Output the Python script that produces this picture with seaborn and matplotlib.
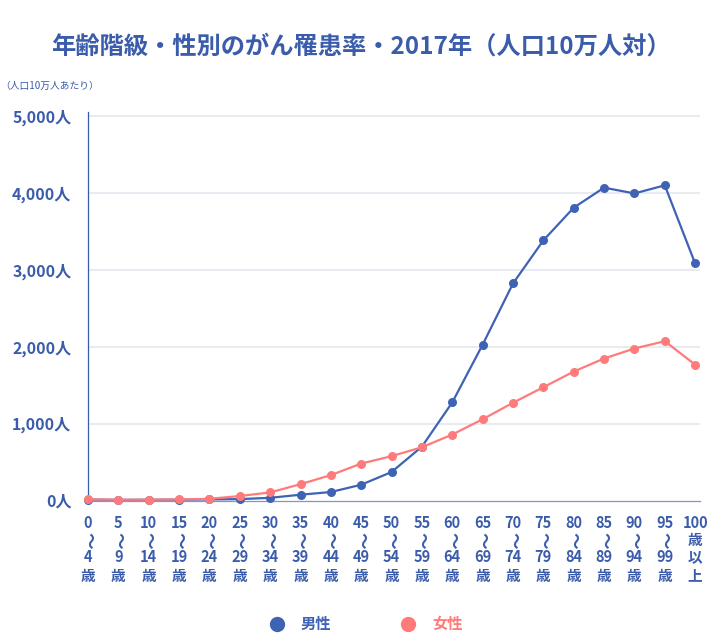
import matplotlib
matplotlib.use("Agg")
import matplotlib.pyplot as plt
from matplotlib.lines import Line2D
import seaborn as sns
import pandas as pd

categories = ["0〜4歳", "5〜9歳", "10〜14歳", "15〜19歳", "20〜24歳", "25〜29歳", "30〜34歳",
              "35〜39歳", "40〜44歳", "45〜49歳", "50〜54歳", "55〜59歳", "60〜64歳", "65〜69歳",
              "70〜74歳", "75〜79歳", "80〜84歳", "85〜89歳", "90〜94歳", "95〜99歳", "100歳以上"]
male = [12, 8, 9, 11, 14, 18, 35, 75, 110, 205, 370, 700, 1275, 2025, 2820, 3380, 3805, 4065, 3990, 4095, 3080]
female = [15, 10, 11, 14, 22, 58, 105, 212, 330, 480, 576, 692, 857, 1056, 1270, 1472, 1675, 1845, 1975, 2070, 1765]
series_names = ["男性", "女性"]
yticks = [0, 1000, 2000, 3000, 4000, 5000]
ytick_labels = ["0人", "1,000人", "2,000人", "3,000人", "4,000人", "5,000人"]
title = "年齢階級・性別のがん罹患率・2017年（人口10万人対）"
unit_note = "（人口10万人あたり）"

BLUE = "#3F63B4"
RED = "#FF7B7B"
TXT = "#3A5CAB"

sns.set_theme(style="white")
plt.rcParams["font.family"] = ["Noto Sans CJK JP", "DejaVu Sans"]

df = pd.DataFrame({
    "idx": list(range(len(categories))) * 2,
    "value": male + female,
    "sex": [series_names[0]] * len(male) + [series_names[1]] * len(female),
})

fig = plt.figure(figsize=(7.22, 6.35), dpi=100)
ax = fig.add_axes([88 / 722, 134.5 / 635, 612 / 722, 388.8 / 635])

sns.lineplot(data=df, x="idx", y="value", hue="sex", palette=[BLUE, RED],
             marker="o", markersize=6.5, markeredgewidth=0, linewidth=1.6,
             legend=False, ax=ax, clip_on=False, zorder=3)

ax.set_xlim(0, 20.16)
ax.set_ylim(0, 5052)
ax.set_yticks(yticks)
ax.set_yticklabels(ytick_labels)

# vertical (stacked) category labels: first line is the tick label,
# the following lines are placed under it one by one
first_lines = []
rest_lines = []
for c in categories:
    if "〜" in c:
        a, b = c.replace("歳", "").split("〜")
        first_lines.append(a)
        rest_lines.append(["〜", b, "歳"])
    else:
        first_lines.append(c[:-3])
        rest_lines.append(list(c[-3:]))
ax.set_xticks(range(len(categories)))
ax.set_xticklabels(first_lines)
ax.set_xlabel("")
ax.set_ylabel("")

px2pt = 72 / 100
line_offsets = [39.5, 57.0, 75.0]  # px below the axis line
for i, lines in enumerate(rest_lines):
    for off, s in zip(line_offsets, lines):
        is_wave = s == "〜"
        ax.annotate(s, xy=(i, 0), xycoords=("data", "axes fraction"),
                    xytext=(0, -off * px2pt), textcoords="offset points",
                    rotation=-90 if is_wave else 0, ha="center", va="center",
                    fontsize=12 if is_wave else 10.5, fontweight="bold",
                    color=TXT, annotation_clip=False)

for y in yticks[1:]:
    ax.axhline(y, xmin=0, xmax=1, color="#E9EBF3", lw=1.5, zorder=1)

ax.tick_params(axis="y", length=0, pad=12, labelsize=11.5, labelcolor=TXT)
ax.tick_params(axis="x", length=0, pad=10.5, labelsize=10.5, labelcolor=TXT)
for lab in ax.get_yticklabels() + ax.get_xticklabels():
    lab.set_fontweight("bold")

for s in ["top", "right"]:
    ax.spines[s].set_visible(False)
ax.spines["left"].set_color(TXT)
ax.spines["left"].set_linewidth(0.9)
ax.spines["bottom"].set_color("#7F97CF")
ax.spines["bottom"].set_linewidth(0.9)

fig.text(0.5, 1 - 47 / 635, title, ha="center", va="center", fontsize=17.5,
         fontweight="bold", color=TXT)
fig.text(0.0, 1 - 86 / 635, unit_note, ha="left", va="center", fontsize=7,
         color=TXT)

handles = [Line2D([], [], marker="o", ls="", color=BLUE, markersize=10),
           Line2D([], [], marker="o", ls="", color=RED, markersize=10)]
leg = fig.legend(handles, series_names, loc="center", bbox_to_anchor=(362 / 722, 1 - 624 / 635),
                 ncol=2, frameon=False, columnspacing=4.0, handletextpad=0.6,
                 prop={"size": 11, "weight": "bold"})
for t, c in zip(leg.get_texts(), [BLUE, RED]):
    t.set_color(c)

fig.savefig("out.png", dpi=100)
